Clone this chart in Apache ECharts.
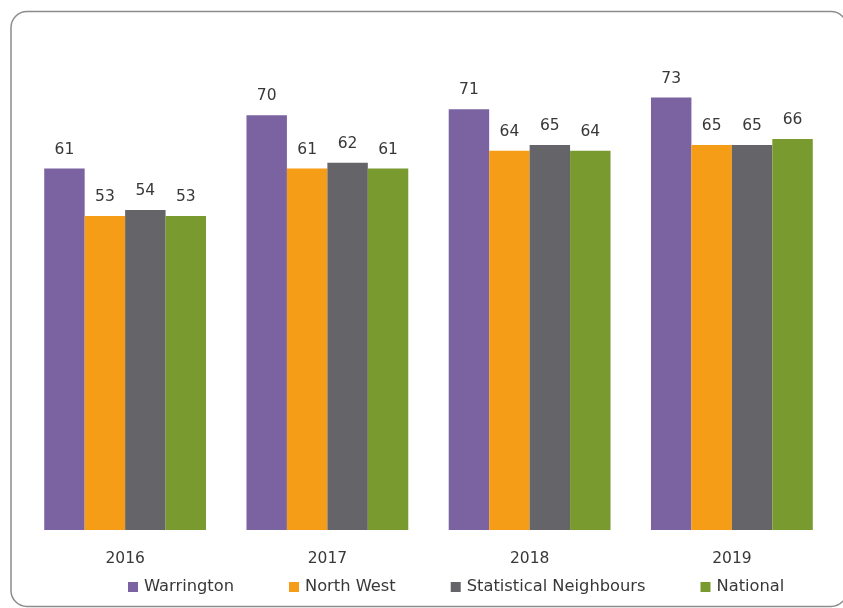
<!DOCTYPE html>
<html>
<head>
<meta charset="utf-8">
<script src="https://cdn.jsdelivr.net/npm/echarts@6/dist/echarts.min.js"></script>
<style>
html,body{margin:0;padding:0;background:#fff;}
#chart{width:843px;height:608px;}
</style>
</head>
<body>
<div id="chart"></div>
<script>
var categories = ['2016', '2017', '2018', '2019'];
var seriesNames = ['Warrington', 'North West', 'Statistical Neighbours', 'National'];
var warrington = [61, 70, 71, 73];
var northWest = [53, 61, 64, 65];
var statNeighbours = [54, 62, 65, 65];
var national = [53, 61, 64, 66];
var colors = ['#7A63A0', '#F59D17', '#656469', '#789A2E'];

var dataSets = [warrington, northWest, statNeighbours, national];
var chart = echarts.init(document.getElementById('chart'));
var FONT = '"DejaVu Sans", sans-serif';
var TXT = '#383838';
var series = dataSets.map(function (d, i) {
  return {
    name: seriesNames[i],
    type: 'bar',
    data: d,
    barGap: '0%',
    barCategoryGap: '20%',
    itemStyle: { color: colors[i] },
    label: {
      show: true,
      position: 'top',
      distance: 11,
      color: TXT,
      fontSize: 15.5,
      fontFamily: FONT
    }
  };
});
chart.setOption({
  animation: false,
  color: colors,
  graphic: [{
    type: 'rect',
    shape: { x: 11, y: 11.5, width: 836, height: 595, r: 16 },
    style: { fill: 'none', stroke: '#8c8c8c', lineWidth: 1.5 },
    silent: true,
    z: -1
  }],
  grid: { left: 24, right: 10, top: 56, bottom: 78, containLabel: false },
  xAxis: {
    type: 'category',
    data: categories,
    axisLine: { show: false },
    axisTick: { show: false },
    axisLabel: { color: TXT, fontSize: 15.5, fontFamily: FONT, margin: 21 }
  },
  yAxis: {
    type: 'value',
    min: 0,
    max: 80,
    show: false,
    splitLine: { show: false }
  },
  legend: {
    data: seriesNames,
    bottom: 8,
    left: 123,
    itemWidth: 10,
    itemHeight: 10,
    itemGap: 55,
    icon: 'rect',
    textStyle: { color: TXT, fontSize: 16.3, fontFamily: FONT, padding: [0, 0, 0, 1] }
  },
  series: series
});
</script>
</body>
</html>
